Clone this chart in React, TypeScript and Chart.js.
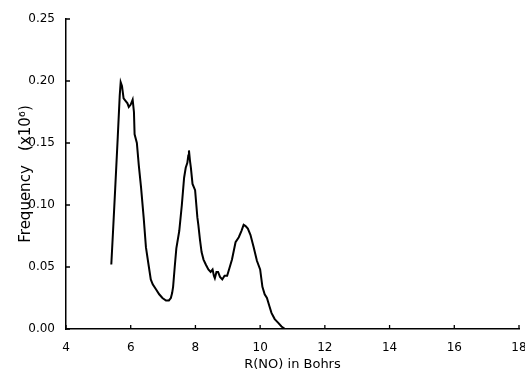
import React, { useEffect, useRef } from "react";
import { Chart, registerables } from "chart.js";

Chart.register(...registerables);

const rNO = [5.40, 5.45, 5.52, 5.60, 5.66, 5.69, 5.73, 5.78, 5.84, 5.90, 5.94, 6.00, 6.06, 6.10, 6.12, 6.19, 6.25, 6.32, 6.40, 6.47, 6.55, 6.62, 6.68, 6.78, 6.88, 6.98, 7.09, 7.18, 7.24, 7.28, 7.31, 7.36, 7.41, 7.50, 7.58, 7.65, 7.70, 7.75, 7.78, 7.80, 7.83, 7.86, 7.91, 7.99, 8.06, 8.09, 8.14, 8.19, 8.25, 8.32, 8.40, 8.47, 8.53, 8.57, 8.60, 8.65, 8.70, 8.76, 8.83, 8.90, 8.98, 9.05, 9.13, 9.24, 9.34, 9.42, 9.49, 9.55, 9.62, 9.70, 9.80, 9.90, 10.00, 10.07, 10.14, 10.21, 10.28, 10.35, 10.45, 10.56, 10.66, 10.77];
const frequency = [0.052, 0.077, 0.113, 0.155, 0.188, 0.199, 0.196, 0.186, 0.184, 0.182, 0.179, 0.181, 0.185, 0.175, 0.157, 0.150, 0.132, 0.114, 0.090, 0.066, 0.052, 0.040, 0.036, 0.032, 0.028, 0.025, 0.023, 0.023, 0.025, 0.029, 0.034, 0.050, 0.065, 0.079, 0.100, 0.122, 0.130, 0.134, 0.140, 0.144, 0.136, 0.130, 0.117, 0.112, 0.090, 0.084, 0.072, 0.062, 0.056, 0.052, 0.048, 0.046, 0.048, 0.043, 0.041, 0.046, 0.046, 0.042, 0.040, 0.043, 0.043, 0.049, 0.056, 0.070, 0.074, 0.079, 0.084, 0.083, 0.081, 0.076, 0.066, 0.055, 0.048, 0.034, 0.028, 0.025, 0.019, 0.013, 0.008, 0.005, 0.002, 0.0];

const xTicks = [4, 6, 8, 10, 12, 14, 16, 18];
const yTicks = [0.0, 0.05, 0.10, 0.15, 0.20, 0.25];
const xTitle = "R(NO) in Bohrs";
const yTitle = "Frequency   (x10⁶)";

const FONT = "'DejaVu Sans', sans-serif";

const innerTicks = {
  id: "innerTicks",
  afterDraw(chart: any) {
    const ctx = chart.ctx;
    const xs = chart.scales.x;
    const ys = chart.scales.y;
    ctx.save();
    ctx.strokeStyle = "#000";
    ctx.lineWidth = 1.3;
    ctx.beginPath();
    xTicks.forEach((v) => {
      const px = xs.getPixelForValue(v);
      ctx.moveTo(px, xs.top);
      ctx.lineTo(px, xs.top - 4);
    });
    yTicks.forEach((v) => {
      const py = ys.getPixelForValue(v);
      ctx.moveTo(ys.right, py);
      ctx.lineTo(ys.right + 4, py);
    });
    ctx.stroke();
    ctx.restore();
  },
};

export default function App() {
  const ref = useRef<HTMLCanvasElement | null>(null);
  useEffect(() => {
    document.body.style.margin = "0";
    const canvas = ref.current!;
    const chart = new Chart(canvas, {
      type: "line",
      data: {
        datasets: [
          {
            data: rNO.map((x, i) => ({ x, y: frequency[i] })),
            borderColor: "#000",
            borderWidth: 2,
            pointRadius: 0,
            tension: 0,
            fill: false,
          },
        ],
      },
      options: {
        animation: false,
        responsive: false,
        devicePixelRatio: 1,
        layout: { padding: { top: 19, right: 6, left: 0, bottom: 0 } },
        plugins: { legend: { display: false }, tooltip: { enabled: false } },
        scales: {
          x: {
            type: "linear",
            min: 4,
            max: 18,
            afterBuildTicks: (s: any) => {
              s.ticks = xTicks.map((v) => ({ value: v }));
            },
            afterFit: (s: any) => {
              s.height = 44;
              s.paddingRight = 0;
              s.paddingLeft = 0;
            },
            grid: { display: false },
            border: { display: true, color: "#000", width: 1.5 },
            ticks: {
              color: "#000",
              padding: 4,
              maxRotation: 0,
              autoSkip: false,
              font: { family: FONT, size: 12 },
              callback: (v: any) => String(v),
            },
            title: {
              display: true,
              text: xTitle,
              color: "#000",
              font: { family: FONT, size: 13 },
              padding: { top: 0, bottom: 1 },
            },
          },
          y: {
            type: "linear",
            min: 0,
            max: 0.25,
            afterBuildTicks: (s: any) => {
              s.ticks = yTicks.map((v) => ({ value: v }));
            },
            afterFit: (s: any) => {
              s.width = 66;
            },
            grid: { display: false },
            border: { display: true, color: "#000", width: 1.5 },
            ticks: {
              color: "#000",
              padding: 3,
              autoSkip: false,
              font: { family: FONT, size: 12 },
              callback: (v: any) => Number(v).toFixed(2),
            },
            title: {
              display: true,
              text: yTitle,
              color: "#000",
              font: { family: FONT, size: 15 },
              padding: { top: 17, bottom: 0 },
            },
          },
        },
      },
      plugins: [innerTicks],
    });
    return () => chart.destroy();
  }, []);
  return (
    <div style={{ width: 525, height: 373, background: "#fff" }}>
      <canvas ref={ref} width={525} height={373} style={{ display: "block" }} />
    </div>
  );
}
